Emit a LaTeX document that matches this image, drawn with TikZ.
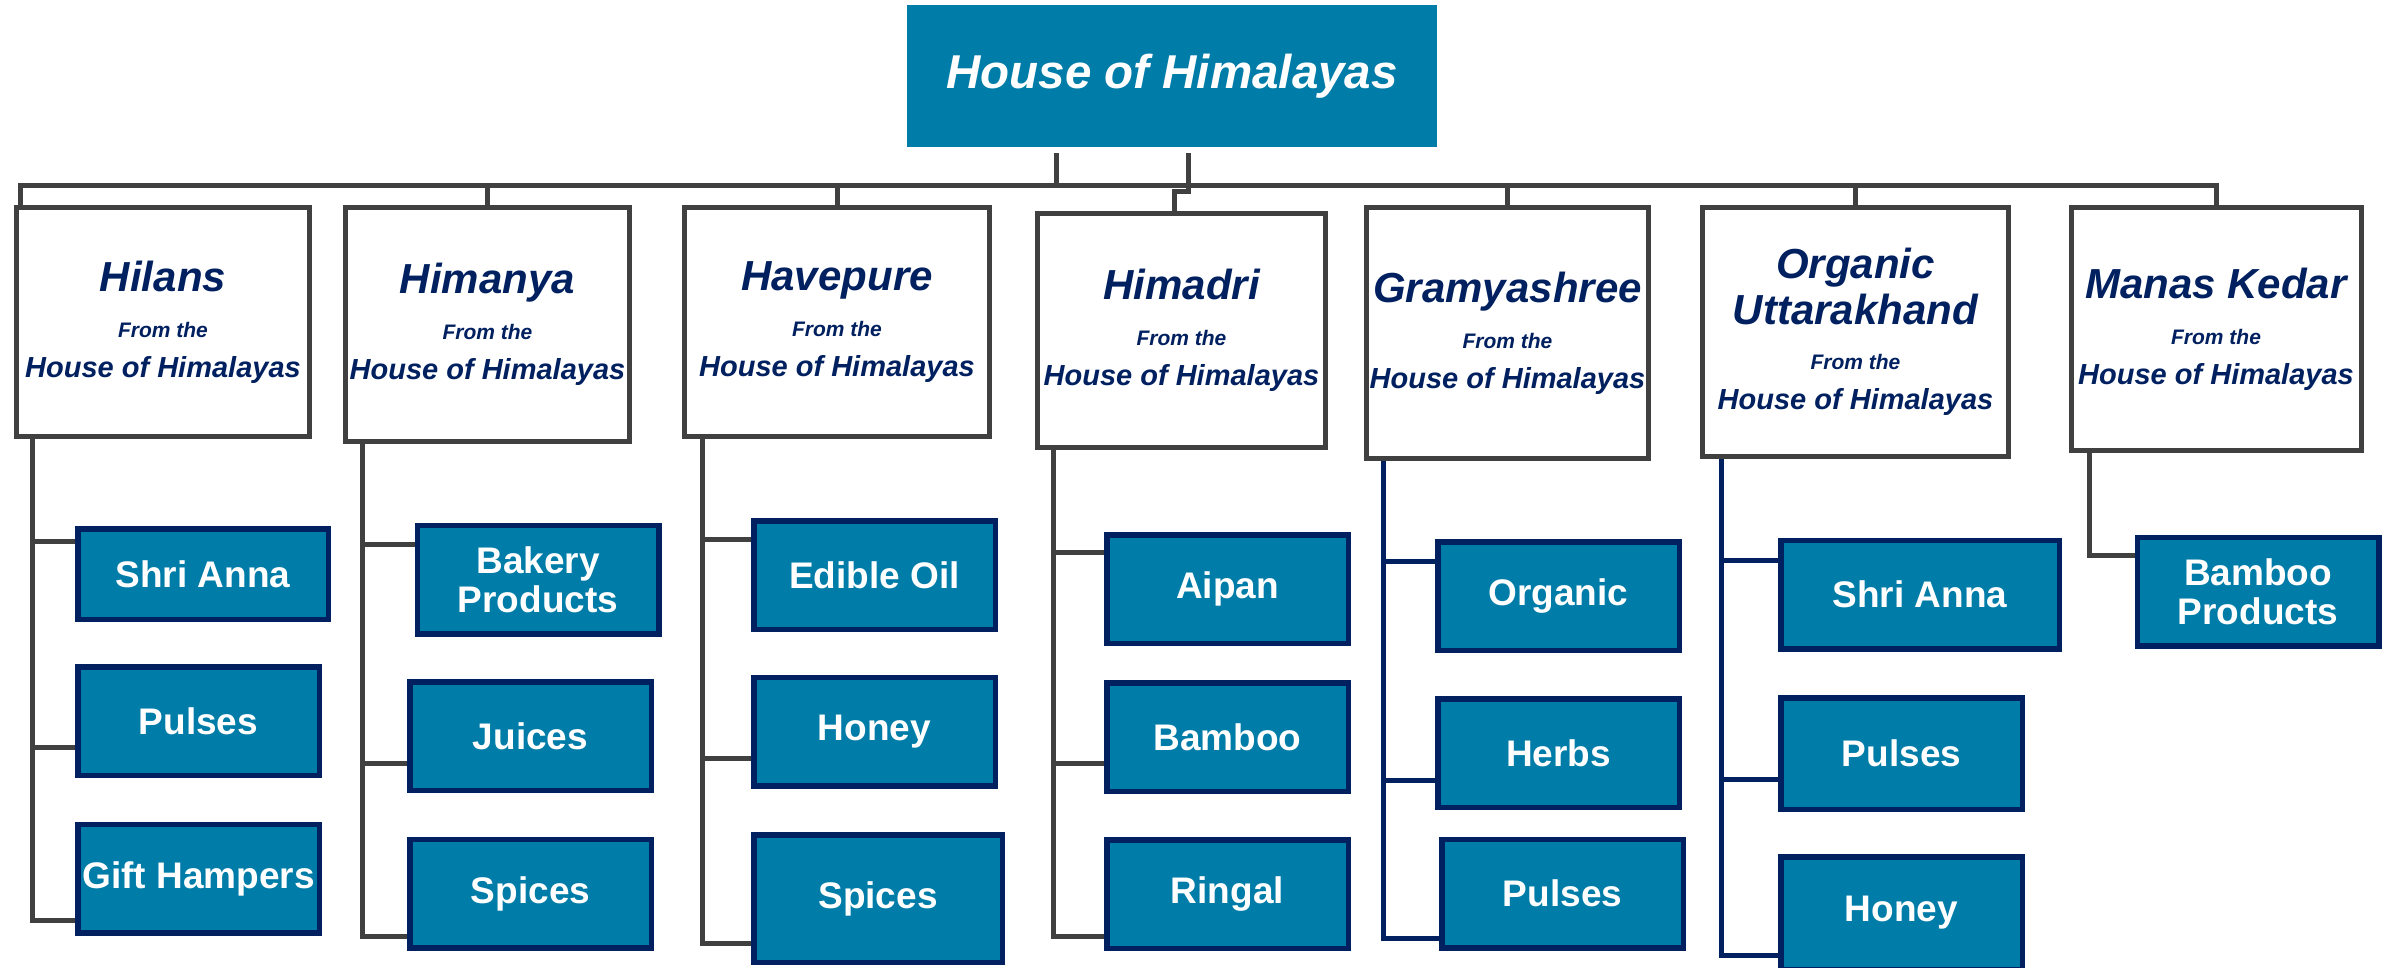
\documentclass[tikz,border=0pt]{standalone}
\usepackage{fontspec}
\setmainfont{Liberation Sans}
\usetikzlibrary{backgrounds}

\definecolor{hohteal}{RGB}{0,124,168}
\definecolor{hohnavy}{RGB}{0,32,96}
\definecolor{hohgray}{RGB}{64,64,64}

\newcommand{\brandtitle}[1]{{\fontsize{42}{46}\selectfont #1}}
\newcommand{\fromthe}{{\fontsize{21}{24}\selectfont From the}}

\tikzset{
  topbox/.style={fill=hohteal, text=white, inner sep=0pt,
    minimum width=530pt, minimum height=142pt,
    font=\fontsize{47.5}{52}\selectfont\bfseries\itshape},
  brandbox/.style={draw=hohgray, line width=5pt, fill=white, text=hohnavy,
    align=center, inner sep=0pt,
    font=\fontsize{29}{40}\selectfont\bfseries\itshape},
  itembox/.style={draw=hohnavy, line width=5.5pt, fill=hohteal, text=white,
    align=center, inner sep=0pt, minimum width=241.5pt, minimum height=108.5pt,
    font=\fontsize{37}{39}\selectfont\bfseries},
  conn/.style={draw=hohgray, line width=5pt},
  navyconn/.style={conn, draw=hohnavy},
}

\begin{document}
\begin{tikzpicture}[x=1pt,y=-1pt]
  \useasboundingbox (0,0) rectangle (2390,968);
  \clip (0,0) rectangle (2390,968);

  % Cabecera
  \node[topbox] (hoh) at (1172,76) {House of Himalayas};

  % Marcas
  \node[brandbox, minimum width=293pt, minimum height=229pt] (hilans) at (163,322)
    {\brandtitle{Hilans}\\[6pt]\fromthe\\House of Himalayas};
  \node[brandbox, minimum width=284pt, minimum height=234pt] (himanya) at (487.5,324.5)
    {\brandtitle{Himanya}\\[6pt]\fromthe\\House of Himalayas};
  \node[brandbox, minimum width=305pt, minimum height=229pt] (havepure) at (837,322)
    {\brandtitle{Havepure}\\[6pt]\fromthe\\House of Himalayas};
  \node[brandbox, minimum width=288pt, minimum height=234pt] (himadri) at (1181.5,330.5)
    {\brandtitle{Himadri}\\[6pt]\fromthe\\House of Himalayas};
  \node[brandbox, minimum width=282pt, minimum height=251pt] (gramya) at (1507.5,333)
    {\brandtitle{Gramyashree}\\[6pt]\fromthe\\House of Himalayas};
  \node[brandbox, minimum width=306pt, minimum height=249pt] (orgutt) at (1855.5,332)
    {\brandtitle{Organic}\\[6pt]\brandtitle{Uttarakhand}\\[5pt]\fromthe\\House of Himalayas};
  \node[brandbox, minimum width=290pt, minimum height=243pt] (manas) at (2216,329)
    {\brandtitle{Manas Kedar}\\[6pt]\fromthe\\House of Himalayas};

  % Productos
  \node[itembox, minimum width=250.5pt, minimum height=90.5pt] (hS) at (203,574) {Shri Anna};
  \node[itembox] (hP) at (198.5,721) {Pulses};
  \node[itembox] (hG) at (198.5,878.5) {Gift Hampers};

  \node[itembox] (mB) at (538,579.5) {Bakery\\Products};
  \node[itembox] (mJ) at (530.5,736) {Juices};
  \node[itembox] (mS) at (530.5,893.5) {Spices};

  \node[itembox] (vE) at (874.5,575) {Edible Oil};
  \node[itembox] (vH) at (874.5,731.5) {Honey};
  \node[itembox, minimum width=248.5pt, minimum height=127.5pt] (vS) at (878,898.5) {Spices};

  \node[itembox] (dA) at (1227.5,589) {Aipan};
  \node[itembox] (dB) at (1227.5,737) {Bamboo};
  \node[itembox] (dR) at (1227.5,894) {Ringal};

  \node[itembox] (gO) at (1558.5,596) {Organic};
  \node[itembox] (gH) at (1558.5,753) {Herbs};
  \node[itembox] (gP) at (1562.5,893.5) {Pulses};

  \node[itembox, minimum width=278.5pt] (oS) at (1920,594.5) {Shri Anna};
  \node[itembox, minimum height=111.5pt] (oP) at (1901.5,753.5) {Pulses};
  \node[itembox, minimum height=112.5pt] (oH) at (1901.5,913) {Honey};

  \node[itembox] (kB) at (2258,591.5) {Bamboo\\Products};

  \begin{scope}[on background layer]
    % Barra principal
    \coordinate (junc) at (1056,186);
    \draw[conn] ([shift={(-116,6)}]hoh.south) -- (junc);
    \draw[conn] (junc) -| ([xshift=6pt]hilans.north west);
    \draw[conn] (junc) -| (himanya.north);
    \draw[conn] (junc) -| (havepure.north);
    \draw[conn] (junc) -| (gramya.north);
    \draw[conn] (junc) -| (orgutt.north);
    \draw[conn] (junc) -| (manas.north);
    \draw[conn] ([shift={(16,6)}]hoh.south) -- ++(0,38) -| ([xshift=-7.5pt]himadri.north);

    % Columnas
    \draw[conn] ([xshift=18.5pt]hilans.south west) |- ([yshift=33pt]hS.west);
    \draw[conn] ([xshift=18.5pt]hilans.south west) |- ([yshift=-26pt]hP.west);
    \draw[conn] ([xshift=18.5pt]hilans.south west) |- ([yshift=-41.5pt]hG.west);

    \draw[conn] ([xshift=19.5pt]himanya.south west) |- ([yshift=35.5pt]mB.west);
    \draw[conn] ([xshift=19.5pt]himanya.south west) |- ([yshift=-27pt]mJ.west);
    \draw[conn] ([xshift=19.5pt]himanya.south west) |- ([yshift=-42.5pt]mS.west);

    \draw[conn] ([xshift=20.5pt]havepure.south west) |- ([yshift=36pt]vE.west);
    \draw[conn] ([xshift=20.5pt]havepure.south west) |- ([yshift=-26.5pt]vH.west);
    \draw[conn] ([xshift=20.5pt]havepure.south west) |- ([yshift=-44.5pt]vS.west);

    \draw[conn] ([xshift=18.5pt]himadri.south west) |- ([yshift=37pt]dA.west);
    \draw[conn] ([xshift=18.5pt]himadri.south west) |- ([yshift=-26pt]dB.west);
    \draw[conn] ([xshift=18.5pt]himadri.south west) |- ([yshift=-42pt]dR.west);

    \draw[navyconn] ([xshift=19.5pt]gramya.south west) |- ([yshift=35pt]gO.west);
    \draw[navyconn] ([xshift=19.5pt]gramya.south west) |- ([yshift=-27pt]gH.west);
    \draw[navyconn] ([xshift=19.5pt]gramya.south west) |- ([yshift=-44.5pt]gP.west);

    \draw[navyconn] ([xshift=21.5pt]orgutt.south west) |- ([yshift=34.5pt]oS.west);
    \draw[navyconn] ([xshift=21.5pt]orgutt.south west) |- ([yshift=-25.5pt]oP.west);
    \draw[navyconn] ([xshift=21.5pt]orgutt.south west) |- ([yshift=-42pt]oH.west);

    \draw[conn] ([xshift=21pt]manas.south west) |- ([yshift=36.5pt]kB.west);
  \end{scope}
\end{tikzpicture}
\end{document}
